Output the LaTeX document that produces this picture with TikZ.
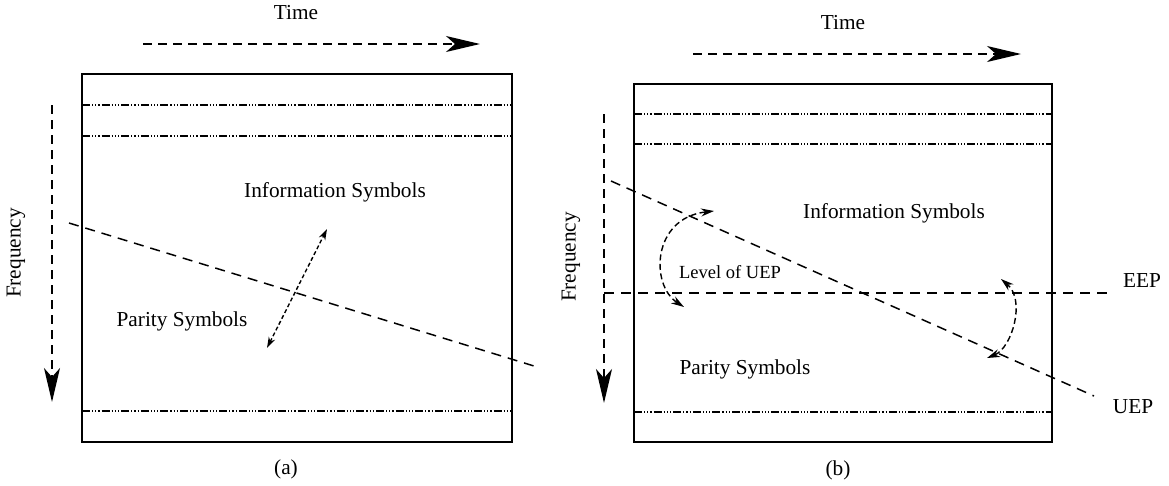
\documentclass[tikz,border=0pt]{standalone}
\usepackage{fontspec}
\setmainfont{Liberation Serif}
\usetikzlibrary{arrows.meta}
\begin{document}
\begin{tikzpicture}[x=1pt,y=-1pt,
  frame/.style={line width=2.8pt},
  sep/.style={line width=1.1pt, dash pattern=on 8pt off 2pt on 1.2pt off 2pt on 1.2pt off 2pt on 1.2pt off 2pt},
  axis/.style={line width=1.5pt, dash pattern=on 9pt off 6pt, -{Stealth[length=34pt,width=16pt,inset=9pt]}},
  split/.style={line width=1.5pt, dash pattern=on 10pt off 7pt},
  lbl/.style={font=\fontsize{21.3}{24}\selectfont, inner sep=0pt},
  small/.style={font=\fontsize{18.5}{21}\selectfont, inner sep=0pt},
  dbl/.style={line width=1.4pt, dash pattern=on 4pt off 2.5pt, {Stealth[length=11pt,width=7pt]}-{Stealth[length=11pt,width=7pt]}},
  curv/.style={line width=1.4pt, dash pattern=on 6pt off 3.5pt, {Stealth[length=13pt,width=8pt]}-{Stealth[length=13pt,width=8pt]}}
]
\useasboundingbox (0,0) rectangle (1169,485);

% ---------- panel (a) ----------
\coordinate (aTL) at (82,74);
\coordinate (aBR) at (512,442);
\draw[frame] (aTL) rectangle (aBR);
\coordinate (aS1l) at (82,105);  \coordinate (aS1r) at (512,105);
\coordinate (aS2l) at (82,136);  \coordinate (aS2r) at (512,136);
\coordinate (aS3l) at (82,411);  \coordinate (aS3r) at (512,411);
\draw[sep] (aS1l) -- (aS1r);
\draw[sep] (aS2l) -- (aS2r);
\draw[sep] (aS3l) -- (aS3r);

\node[lbl] (aTime) at (296,13) {Time};
\coordinate (aT0) at (143,44); \coordinate (aT1) at (480,44);
\draw[axis] (aT0) -- (aT1);

\node[lbl, rotate=90] (aFreq) at (16,253) {Frequency};
\coordinate (aF0) at (52,105); \coordinate (aF1) at (52,402);
\draw[axis] (aF0) -- (aF1);

\coordinate (aD0) at (69,223); \coordinate (aD1) at (534,366);
\draw[split] (aD0) -- (aD1);

\coordinate (aA0) at (267,348); \coordinate (aA1) at (327,229);
\draw[dbl] (aA0) -- (aA1);

\node[lbl] (aInfo) at (335,192) {Information Symbols};
\node[lbl] (aPar) at (182,321) {Parity Symbols};
\node[lbl] (aCap) at (286,469) {(a)};

% ---------- panel (b) ----------
\coordinate (bTL) at (634,84);
\coordinate (bBR) at (1052,442);
\draw[frame] (bTL) rectangle (bBR);
\coordinate (bS1l) at (634,114);  \coordinate (bS1r) at (1052,114);
\coordinate (bS2l) at (634,144);  \coordinate (bS2r) at (1052,144);
\coordinate (bS3l) at (634,412);  \coordinate (bS3r) at (1052,412);
\draw[sep] (bS1l) -- (bS1r);
\draw[sep] (bS2l) -- (bS2r);
\draw[sep] (bS3l) -- (bS3r);

\node[lbl] (bTime) at (843,23) {Time};
\coordinate (bT0) at (693,54); \coordinate (bT1) at (1021,54);
\draw[axis] (bT0) -- (bT1);

\node[lbl, rotate=90] (bFreq) at (571,257) {Frequency};
\coordinate (bF0) at (604,114); \coordinate (bF1) at (604,403);
\draw[axis] (bF0) -- (bF1);

\coordinate (bE0) at (604,293); \coordinate (bE1) at (1112,293);
\draw[split] (bE0) -- (bE1);
\node[lbl] (bEEP) at (1142,281) {EEP};

\coordinate (bU0) at (611,181); \coordinate (bU1) at (1094,396);
\draw[split] (bU0) -- (bU1);
\node[lbl] (bUEP) at (1133,407) {UEP};

\coordinate (bC1a) at (684,307); \coordinate (bC1b) at (714,211);
\draw[curv] (bC1a) .. controls (650,285) and (652,218) .. (bC1b);
\coordinate (bC2a) at (987,358); \coordinate (bC2b) at (1001,279);
\draw[curv] (bC2a) .. controls (1012,348) and (1026,300) .. (bC2b);

\node[lbl] (bInfo) at (894,213) {Information Symbols};
\node[small] (bLev) at (730,272) {Level of UEP};
\node[lbl] (bPar) at (745,369) {Parity Symbols};
\node[lbl] (bCap) at (838,470) {(b)};
\end{tikzpicture}
\end{document}
